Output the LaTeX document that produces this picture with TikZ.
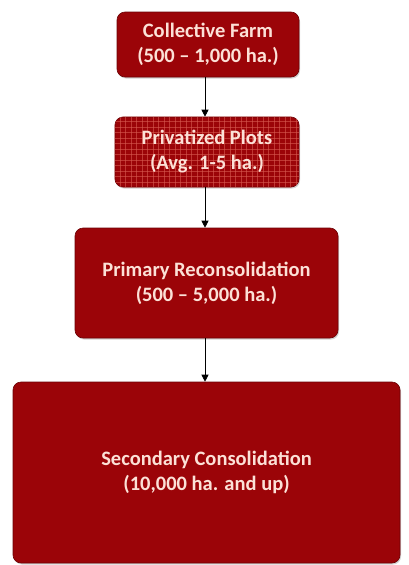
\documentclass[tikz,border=0pt]{standalone}
\usepackage{fontspec}
\setmainfont{Carlito}
\usetikzlibrary{arrows.meta,shadows,calc}
\definecolor{boxred}{RGB}{155,4,8}
\definecolor{gridred}{RGB}{215,90,80}
\definecolor{txt}{RGB}{252,225,215}
\tikzset{
  stagefont/.style={text=txt, font=\bfseries\fontsize{20.5}{25}\selectfont, align=center},
  stage/.style={rounded corners=8pt, fill=boxred, draw=boxred!70!black, line width=0.6pt,
    stagefont, inner sep=0pt,
    drop shadow={shadow xshift=1pt, shadow yshift=-1.5pt, opacity=0.35}},
  link/.style={-{Triangle[length=7pt,width=7pt]}, line width=0.8pt, black}
}
\begin{document}
\begin{tikzpicture}[x=1pt,y=-1pt]
\useasboundingbox (0,0) rectangle (409,565);
\node[stage, minimum width=182pt, minimum height=65pt] (a) at (208,44.5) {Collective Farm\\(500 -- 1,000 ha.)};
\node[stage, minimum width=184pt, minimum height=70pt] (b) at (207,152) {};
\begin{scope}
  \clip[rounded corners=8pt] (b.south west) rectangle (b.north east);
  \foreach \i in {0,5.5,...,190} \draw[gridred, line width=0.5pt, opacity=0.6] ($(b.north west)+(\i,0)$) -- ++(0,70);
  \foreach \j in {0,5.5,...,72} \draw[gridred, line width=0.5pt, opacity=0.6] ($(b.south west)+(0,-\j)$) -- ++(184,0);
\end{scope}
\node[stagefont] (bt) at (b.center) {Privatized Plots\\(Avg. 1-5 ha.)};
\node[stage, minimum width=263pt, minimum height=110pt] (c) at (206.5,283) {Primary Reconsolidation\\(500 -- 5,000 ha.)};
\node[stage, minimum width=387pt, minimum height=181pt] (d) at (206.5,472.5) {Secondary Consolidation\\(10,000 ha. and up)};
\draw[link] (a.south -| 205,0) -- (b.north -| 205,0);
\draw[link] (b.south -| 205,0) -- (c.north -| 205,0);
\draw[link] (c.south -| 205,0) -- (d.north -| 205,0);
\end{tikzpicture}
\end{document}
